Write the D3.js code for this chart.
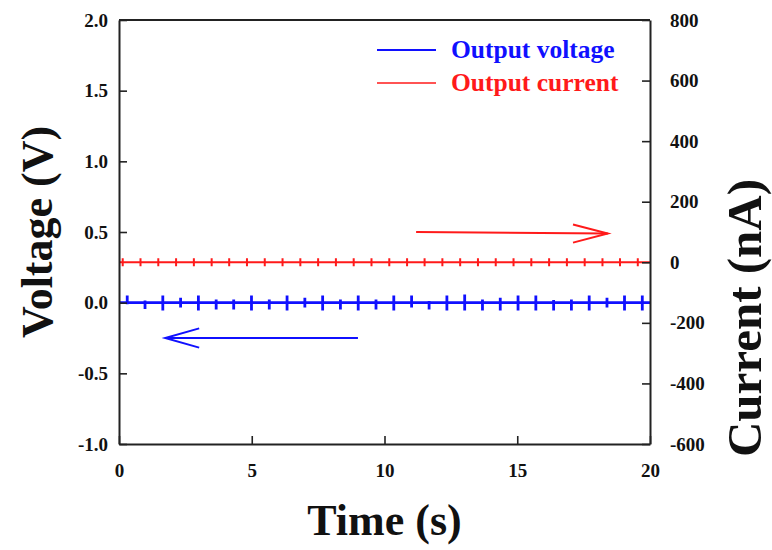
<!DOCTYPE html>
<html>
<head>
<meta charset="utf-8">
<script src="https://cdn.jsdelivr.net/npm/d3@7"></script>
<style>
  body { margin: 0; background: #fff; }
  text { font-family: "Liberation Serif", "Times New Roman", serif; font-weight: bold; }
</style>
</head>
<body>
<div id="chart"></div>
<script>
// time axis and the two y axes
const timeTicks = [0, 5, 10, 15, 20];
const voltTicks = [-1.0, -0.5, 0.0, 0.5, 1.0, 1.5, 2.0];
const currTicks = [-600, -400, -200, 0, 200, 400, 600, 800];

// output voltage: flat baseline with small spikes (up, down in V)
const voltBase = 0.0;
const voltSpikeT = [0.31, 0.98, 1.65, 2.32, 2.99, 3.66, 4.32, 4.99, 5.66, 6.33,
                    7.00, 7.67, 8.34, 9.01, 9.68, 10.35, 11.02, 11.68, 12.35, 13.02,
                    13.69, 14.36, 15.03, 15.70, 16.37, 17.04, 17.71, 18.38, 19.04, 19.71];
const voltSpikeUp = [0.05, 0.015, 0.05, 0.035, 0.05, 0.022, 0.022, 0.05, 0.022, 0.05,
                     0.035, 0.05, 0.022, 0.05, 0.022, 0.05, 0.05, 0.012, 0.05, 0.058,
                     0.022, 0.035, 0.05, 0.05, 0.018, 0.022, 0.05, 0.035, 0.05, 0.05];
const voltSpikeDown = [0.012, 0.045, 0.055, 0.035, 0.055, 0.048, 0.048, 0.055, 0.048, 0.055,
                       0.035, 0.055, 0.048, 0.055, 0.048, 0.055, 0.035, 0.048, 0.055, 0.055,
                       0.055, 0.055, 0.055, 0.055, 0.055, 0.055, 0.055, 0.035, 0.055, 0.055];

// output current: flat at 0 nA with small symmetric ticks
const currBase = 0;
const currSpikeT = [0.14, 0.81, 1.48, 2.15, 2.82, 3.49, 4.15, 4.82, 5.49, 6.16,
                    6.83, 7.50, 8.17, 8.84, 9.51, 10.18, 10.85, 11.51, 12.18, 12.85,
                    13.52, 14.19, 14.86, 15.53, 16.20, 16.87, 17.54, 18.21, 18.87, 19.54];
const currSpikeAmp = 13;

const legendNames = ["Output voltage", "Output current"];
const seriesColors = ["#1010ff", "#ff1a1a"];

const W = 772, H = 550;
const margin = {top: 20, right: 122, bottom: 106, left: 119};

const svg = d3.select("#chart").append("svg")
    .attr("width", W)
    .attr("height", H);

const x = d3.scaleLinear().domain([0, 20]).range([margin.left, W - margin.right]);
const yV = d3.scaleLinear().domain([-1, 2]).range([H - margin.bottom, margin.top]);
const yI = d3.scaleLinear().domain([-600, 800]).range([H - margin.bottom, margin.top]);

// build spike traces
function spikeTrace(times, ups, downs, base) {
    let pts = [[0, base]];
    times.forEach((t, i) => {
        pts.push([t, base], [t, base + ups[i]], [t, base - downs[i]], [t, base]);
    });
    pts.push([20, base]);
    return pts;
}

const voltPts = spikeTrace(voltSpikeT, voltSpikeUp, voltSpikeDown, voltBase);
const currPts = spikeTrace(currSpikeT, currSpikeT.map(() => currSpikeAmp),
                           currSpikeT.map(() => currSpikeAmp), currBase);

svg.append("path")
    .datum(currPts)
    .attr("fill", "none")
    .attr("stroke", seriesColors[1])
    .attr("stroke-width", 2)
    .attr("d", d3.line().x(d => x(d[0])).y(d => yI(d[1])));

svg.append("path")
    .datum(voltPts)
    .attr("fill", "none")
    .attr("stroke", seriesColors[0])
    .attr("stroke-width", 2.8)
    .attr("d", d3.line().x(d => x(d[0])).y(d => yV(d[1])));

// axes
const axisColor = "#222";
const bottom = svg.append("g")
    .attr("transform", `translate(0,${H - margin.bottom})`)
    .call(d3.axisBottom(x).tickValues(timeTicks).tickSizeInner(-8).tickSizeOuter(0).tickPadding(20));
const left = svg.append("g")
    .attr("transform", `translate(${margin.left},0)`)
    .call(d3.axisLeft(yV).tickValues(voltTicks).tickFormat(d3.format(".1f")).tickSizeInner(-8).tickSizeOuter(0).tickPadding(11));
const right = svg.append("g")
    .attr("transform", `translate(${W - margin.right},0)`)
    .call(d3.axisRight(yI).tickValues(currTicks).tickSizeInner(-8).tickSizeOuter(0).tickPadding(20));
svg.append("line")
    .attr("x1", margin.left).attr("x2", W - margin.right)
    .attr("y1", margin.top).attr("y2", margin.top)
    .attr("stroke", axisColor).attr("stroke-width", 2);

[bottom, left, right].forEach(g => {
    g.select(".domain").attr("stroke", axisColor).attr("stroke-width", 2);
    g.selectAll(".tick line").attr("stroke", axisColor).attr("stroke-width", 1.6);
    g.selectAll(".tick text")
        .attr("fill", "#111")
        .style("font-size", "19px")
        .style("font-family", "'Liberation Serif', serif")
        .style("font-weight", "bold");
});
left.selectAll(".tick text").text(d => d3.format(".1f")(d).replace("−", "-"));
right.selectAll(".tick text").text(d => String(d));

// direction arrows
const arrows = [
    {scale: yI, color: seriesColors[1], from: [11.19, 100], to: [18.41, 95], arm: [17.1, 30]},
    {scale: yV, color: seriesColors[0], from: [9.0, -0.25], to: [1.74, -0.25], arm: [3.02, 0.068]}
];
arrows.forEach(a => {
    const ys = a.scale;
    const g = svg.append("g").attr("fill", "none").attr("stroke", a.color).attr("stroke-width", 2);
    g.append("line")
        .attr("x1", x(a.from[0])).attr("y1", ys(a.from[1]))
        .attr("x2", x(a.to[0])).attr("y2", ys(a.to[1]));
    g.append("path")
        .attr("d", `M${x(a.arm[0])},${ys(a.to[1] + a.arm[1])} L${x(a.to[0])},${ys(a.to[1])} L${x(a.arm[0])},${ys(a.to[1] - a.arm[1])}`);
});

// legend
const legend = svg.append("g");
legendNames.forEach((name, i) => {
    const yy = 50 + i * 33;
    legend.append("line")
        .attr("x1", 377).attr("x2", 436)
        .attr("y1", yy).attr("y2", yy)
        .attr("stroke", seriesColors[i]).attr("stroke-width", i === 0 ? 2.2 : 1.6);
    legend.append("text")
        .attr("x", 451).attr("y", yy + 8)
        .attr("fill", seriesColors[i])
        .style("font-size", "25.5px")
        .text(name);
});

// axis titles
svg.append("text")
    .attr("transform", `translate(52,${(margin.top + H - margin.bottom) / 2}) rotate(-90)`)
    .attr("text-anchor", "middle")
    .attr("fill", "#111")
    .style("font-size", "44px")
    .text("Voltage (V)");

svg.append("text")
    .attr("transform", `translate(761,318) rotate(-90)`)
    .attr("text-anchor", "middle")
    .attr("fill", "#111")
    .style("font-size", "49px")
    .text("Current (nA)");

svg.append("text")
    .attr("x", x(10)).attr("y", 535)
    .attr("text-anchor", "middle")
    .attr("fill", "#111")
    .style("font-size", "44px")
    .text("Time (s)");
</script>
</body>
</body>
</html>
